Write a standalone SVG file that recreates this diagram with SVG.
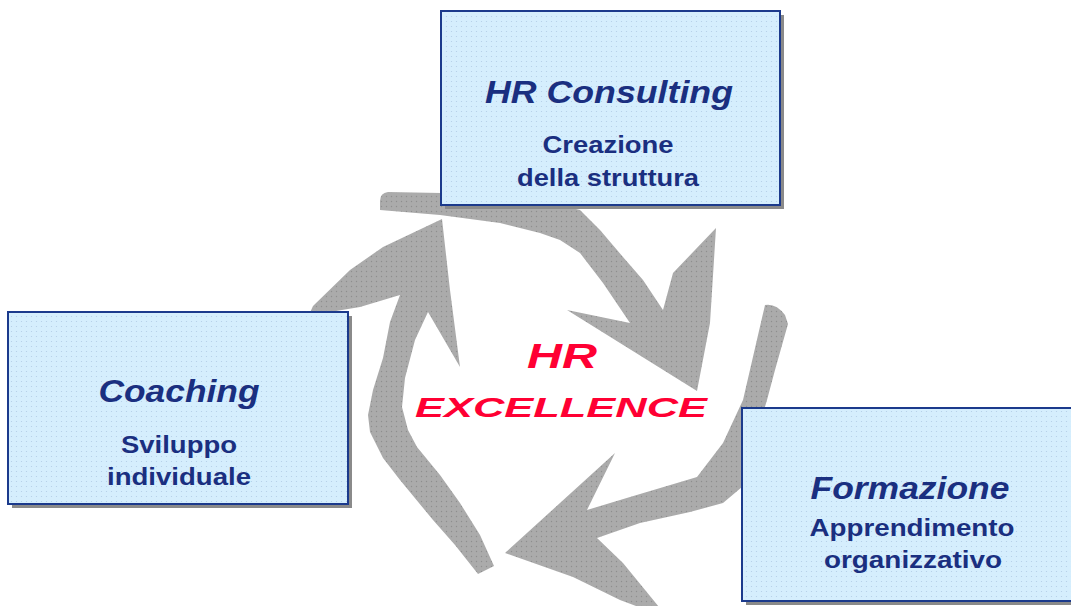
<svg xmlns="http://www.w3.org/2000/svg" width="1071" height="606" viewBox="0 0 1071 606">
<defs>
<pattern id="grayDots" width="5" height="5" patternUnits="userSpaceOnUse">
<rect width="5" height="5" fill="#ababab"/>
<circle cx="1.5" cy="1.5" r="0.7" fill="#8e8e8e"/>
</pattern>
<pattern id="blueDots" width="5" height="5" patternUnits="userSpaceOnUse">
<rect width="5" height="5" fill="#d5eefd"/>
<circle cx="1.5" cy="1.5" r="0.6" fill="#b2cde6"/>
</pattern>
</defs>
<style>
.arrow{fill:url(#grayDots);stroke:none}
.box{fill:url(#blueDots);stroke:#1b3a8c;stroke-width:2}
.shadow{fill:#8a8a8a}
.title{font-family:"Liberation Sans",Arial,sans-serif;font-weight:bold;font-style:italic;font-size:32px;fill:#1a2f80;text-anchor:middle}
.sub{font-family:"Liberation Sans",Arial,sans-serif;font-weight:bold;font-size:23px;fill:#1a2f80;text-anchor:middle}
.center{font-family:"Liberation Sans",Arial,sans-serif;font-weight:bold;font-style:italic;fill:#ff0033;text-anchor:middle}
</style>
<rect width="1071" height="606" fill="#ffffff"/>
<g id="connectors">
<path class="arrow" d="M388,192 Q380,193 380,201 L380,210 L440,215 L500,223 L540,233 L560,240 L580,253 L603,283 L630,323 L567,310 L697,391 L710,323 L716,228 L673,273 L663,310 L643,280 L623,257 L600,230 L580,210 L540,200 L441,193 Z"/>
<path class="arrow" d="M765,305 Q776,303 785,315 L788,324 L775,370 L767,400 L755,440 L742,487 L723,503 L690,512 L640,523 L597,538 L623,563 L668,618 L620,600 L573,577 L505,553 L615,453 L587,510 L630,497 L677,483 L697,477 L723,443 L743,400 Z"/>
<path class="arrow" d="M478,574 L455,545 L433,520 L400,480 L383,458 L370,432 L368,415 L373,390 L383,358 L390,322 L400,295 L360,307 L330,312 L300,335 L313,306 L350,270 L383,247 L442,219 L450,290 L460,367 L428,312 L415,340 L405,378 L402,407 L408,430 L417,447 L440,475 L460,503 L480,535 L494,566 Z"/>
</g>
<g id="node-consulting">
<rect class="shadow" x="445" y="15" width="339" height="194"/>
<rect class="box" x="441" y="11" width="339" height="194"/>
<text class="title" x="609" y="103" textLength="248" lengthAdjust="spacingAndGlyphs">HR Consulting</text>
<text class="sub" x="608" y="153" textLength="131" lengthAdjust="spacingAndGlyphs">Creazione</text>
<text class="sub" x="608" y="186" textLength="182" lengthAdjust="spacingAndGlyphs">della struttura</text>
</g>
<g id="node-coaching">
<rect class="shadow" x="12" y="316" width="340" height="192"/>
<rect class="box" x="8" y="312" width="340" height="192"/>
<text class="title" x="179" y="402" textLength="161" lengthAdjust="spacingAndGlyphs">Coaching</text>
<text class="sub" x="179" y="453" textLength="116" lengthAdjust="spacingAndGlyphs">Sviluppo</text>
<text class="sub" x="179" y="485" textLength="144" lengthAdjust="spacingAndGlyphs">individuale</text>
</g>
<g id="node-formazione">
<rect class="shadow" x="746" y="412" width="340" height="193"/>
<rect class="box" x="742" y="408" width="340" height="193"/>
<text class="title" x="910" y="499" textLength="199" lengthAdjust="spacingAndGlyphs">Formazione</text>
<text class="sub" x="912" y="536" textLength="205" lengthAdjust="spacingAndGlyphs">Apprendimento</text>
<text class="sub" x="913" y="568" textLength="178" lengthAdjust="spacingAndGlyphs">organizzativo</text>
</g>
<g id="node-center">
<text class="center" x="562" y="368" font-size="35" textLength="70" lengthAdjust="spacingAndGlyphs">HR</text>
<text class="center" x="561" y="417" font-size="28" textLength="292" lengthAdjust="spacingAndGlyphs">EXCELLENCE</text>
</g>
</svg>
